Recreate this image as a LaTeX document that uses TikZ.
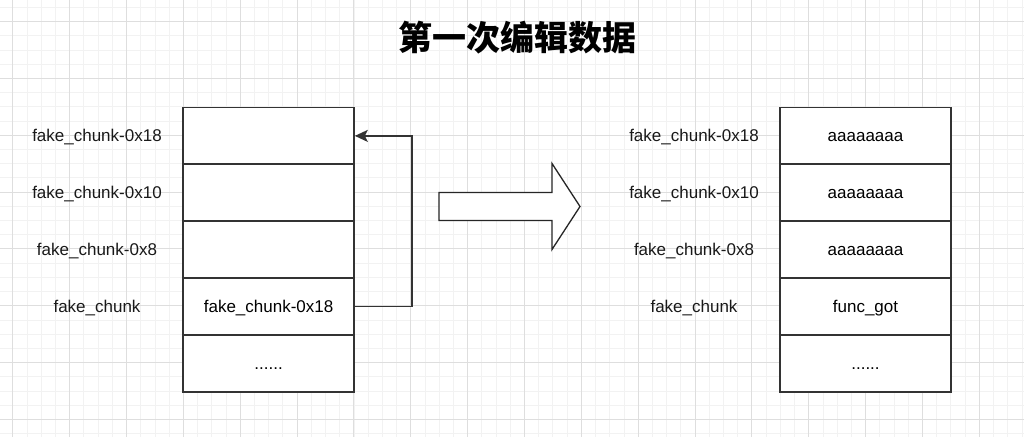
\documentclass[tikz,border=0pt]{standalone}
\usepackage{fontspec}
\setmainfont{Liberation Sans}
\newfontfamily\cjk{Noto Sans CJK SC}
\usetikzlibrary{arrows.meta}

\tikzset{
  cell/.style={draw=black!80, line width=1.9pt, fill=white, inner sep=0pt,
    minimum width=170.55pt, minimum height=56.85pt, text height=12pt, text depth=0pt,
    font=\fontsize{17}{20}\selectfont},
  lbl/.style={font=\fontsize{17}{20}\selectfont, text=black!90, text height=12pt, text depth=0pt},
  link/.style={draw=black!80, line width=1.7pt, -{Stealth[length=13pt,width=12pt,inset=3pt]}},
}

\begin{document}
\begin{tikzpicture}[x=1pt,y=1pt]
            \useasboundingbox (0,0) rectangle (1024,436);
            % grid background
            \begin{scope}
            \clip (0,0) rectangle (1024,436);
            \fill[white] (0,0) rectangle (1024,436);
            \draw[black!5, line width=0.8pt, xshift=12.8pt, yshift=16.55pt, step=14.2125pt] (-60,-60) grid (1030,440);
            \draw[black!13, line width=0.9pt, xshift=12.8pt, yshift=16.55pt, step=56.85pt] (-60,-60) grid (1030,440);
            \end{scope}
            \node[font=\cjk\bfseries\fontsize{34}{36}\selectfont] (title) at (517,398) {第一次编辑数据};
            % left stack
            \node[cell] (L1) at (268.6,300.1) {};
            \node[cell] (L2) at (268.6,243.3) {};
            \node[cell] (L3) at (268.6,186.4) {};
            \node[cell] (L4) at (268.6,129.6) {fake\_chunk-0x18};
            \node[cell] (L5) at (268.6,72.7) {......};
            \node[lbl] (la1) at (97,300.1) {fake\_chunk-0x18};
            \node[lbl] (la2) at (97,243.3) {fake\_chunk-0x10};
            \node[lbl] (la3) at (97,186.4) {fake\_chunk-0x8};
            \node[lbl] (la4) at (97,129.6) {fake\_chunk};
            \draw[link] (L4.east) -- ++(56.85,0) |- (L1.east);
            % block arrow
            \draw[black!85, line width=1.3pt, fill=white, line join=miter]
                (439,215.5) -- (552,215.5) -- (552,186.5) -- (580,229.5) -- (552,272.5) -- (552,243.5) -- (439,243.5) -- cycle;
            % right stack
            \node[cell] (R1) at (865.5,300.1) {aaaaaaaa};
            \node[cell] (R2) at (865.5,243.3) {aaaaaaaa};
            \node[cell] (R3) at (865.5,186.4) {aaaaaaaa};
            \node[cell] (R4) at (865.5,129.6) {func\_got};
            \node[cell] (R5) at (865.5,72.7) {......};
            \node[lbl] (ra1) at (694,300.1) {fake\_chunk-0x18};
            \node[lbl] (ra2) at (694,243.3) {fake\_chunk-0x10};
            \node[lbl] (ra3) at (694,186.4) {fake\_chunk-0x8};
            \node[lbl] (ra4) at (694,129.6) {fake\_chunk};
        \end{tikzpicture}
\end{document}
